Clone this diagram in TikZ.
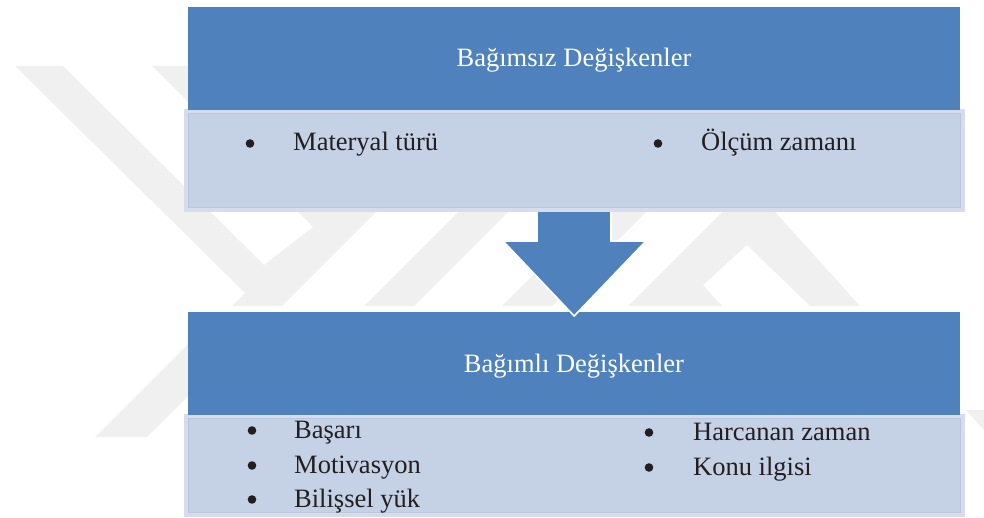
\documentclass[tikz,border=0pt]{standalone}
\usepackage{fontspec}
\setmainfont{Liberation Serif}
\usetikzlibrary{calc}

\definecolor{accent}{HTML}{4F81BD}
\definecolor{tint}{HTML}{C5D1E5}
\definecolor{tinthalo}{HTML}{D5DDEC}
\definecolor{tintedge}{HTML}{B9C7DF}
\definecolor{ink}{HTML}{231F20}
\definecolor{mark}{HTML}{F0F0F0}

\tikzset{
  headbox/.style={fill=accent, draw=none, minimum width=772pt, minimum height=103pt,
    inner sep=0pt, anchor=north west},
  listbox/.style={fill=tint, draw=tintedge, line width=0.8pt, minimum width=772pt,
    minimum height=94pt, inner sep=0pt, anchor=north west,
    preaction={draw=tinthalo, line width=9pt}},
  headtext/.style={text=white, inner sep=0pt, anchor=base,
    font=\fontsize{26.5pt}{30pt}\selectfont},
  itemtext/.style={text=ink, inner sep=0pt, anchor=base west,
    font=\fontsize{26.5pt}{30pt}\selectfont},
  bulletdot/.style={circle, fill=ink, draw=none, inner sep=0pt, minimum size=8.6pt,
    yshift=7.5pt},
  flowarrow/.style={fill=accent, draw=white, line width=1.6pt, line join=miter},
  watermark/.style={fill=mark, draw=none}
}

\begin{document}
\begin{tikzpicture}[x=1pt, y=-1pt]
  \useasboundingbox (0,0) rectangle (984,518);

  % faint background emblem
  \begin{scope}
    \clip (0,0) rectangle (984,518);
    \fill[watermark] (15,66) -- (63,66) -- (264,265) -- (313,227) -- (152,66)
      -- (522,66) -- (282,306) -- (232,306) -- (245,293) -- cycle;
    \fill[watermark] (364,306) -- (414,306) -- (654,66) -- (604,66) -- cycle;
    \fill[watermark] (502,306) -- (552,306) -- (792,66) -- (742,66) -- cycle;
    \fill[watermark] (628,306) -- (750,184) -- (860,306) -- (810,306)
      -- (747,245) -- (703,285) -- (722,306) -- cycle;
    \fill[watermark] (95,437) -- (147,437) -- (258,326) -- (206,326) -- cycle;
    \fill[watermark] (966,410) -- (990,410) -- (990,437) -- cycle;
  \end{scope}

  % lower block: dependent variables
  \node[listbox] (depList) at (188,418) {};
  \node[headbox] (depHead) at (188,312) {};

  % block arrow between the two blocks
  \coordinate (tail) at (574,205);
  \coordinate (tip) at ($(depHead.north)+(0,4)$);
  \draw[flowarrow] ($(tail)+(-37,0)$) -- ($(tail)+(37,0)$) -- ($(tail)+(37,36)$)
    -- ($(tail)+(72,36)$) -- (tip) -- ($(tail)+(-71,36)$) -- ($(tail)+(-37,36)$) -- cycle;

  % upper block: independent variables
  \node[listbox] (indepList) at (188,113) {};
  \node[headbox] (indepHead) at (188,7) {};

  % titles
  \node[headtext] (indepTitle) at (574,67) {Bağımsız Değişkenler};
  \node[headtext] (depTitle) at (574,372) {Bağımlı Değişkenler};

  % independent variables
  \node[bulletdot] (bA) at (250,151) {};
  \node[itemtext] (iA) at (293,151) {Materyal türü};
  \node[bulletdot] (bB) at (658,151) {};
  \node[itemtext] (iB) at (701,151) {Ölçüm zamanı};

  % dependent variables
  \node[bulletdot] (bC) at (252,438) {};
  \node[itemtext] (iC) at (294,438) {Başarı};
  \node[bulletdot] (bD) at (252,473) {};
  \node[itemtext] (iD) at (294,473) {Motivasyon};
  \node[bulletdot] (bE) at (252,507) {};
  \node[itemtext] (iE) at (294,507) {Bilişsel yük};
  \node[bulletdot] (bF) at (649,440) {};
  \node[itemtext] (iF) at (693,440) {Harcanan zaman};
  \node[bulletdot] (bG) at (649,475) {};
  \node[itemtext] (iG) at (693,475) {Konu ilgisi};
\end{tikzpicture}
\end{document}
